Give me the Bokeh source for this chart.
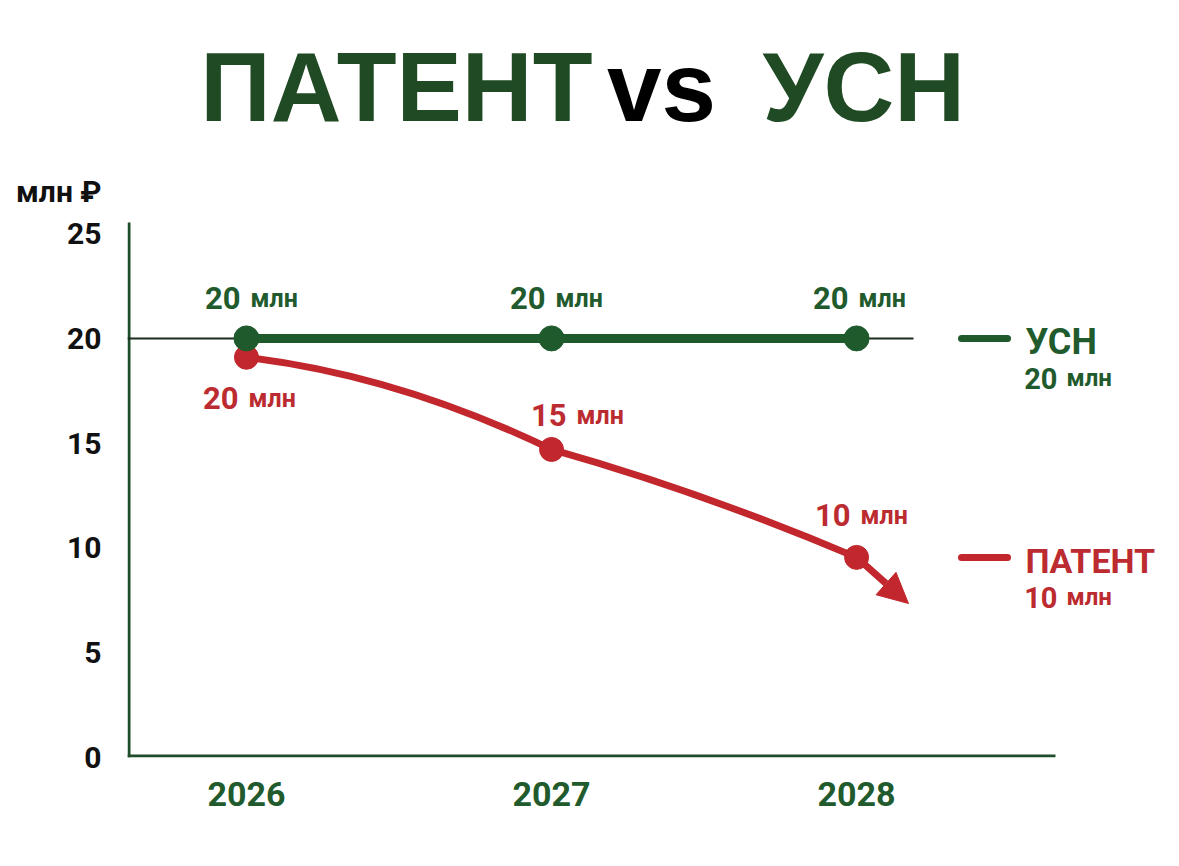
from bokeh.plotting import figure
from bokeh.models import Arrow, NormalHead, FixedTicker, Range1d
from bokeh.core.properties import value
from bokeh.embed import file_html
from bokeh.resources import INLINE

# ---------------- data ----------------
years = [2026, 2027, 2028]
usn = [20, 20, 20]
patent = [19.1, 14.7, 9.55]
usn_labels = ["20", "20", "20"]
patent_labels = ["20", "15", "10"]
unit = "млн"
y_ticks = [0, 5, 10, 15, 20, 25]
y_unit_label = "млн ₽"
threshold = 20
patent_trend_end = (2028.17, 7.35)   # where the trend arrow points
legend_usn = ("УСН", "20")
legend_patent = ("ПАТЕНТ", "10")
title_parts = ["ПАТЕНТ", "vs", "УСН"]

# ---------------- style / layout ----------------
W, H = 1179, 866
FRAME_L, FRAME_R, FRAME_T, FRAME_B = 127, W, 0, 757
PX_PER_YEAR, PX_PER_UNIT = 305.06, 20.955
X_START = 2025.61
X_END = X_START + (FRAME_R - FRAME_L) / PX_PER_YEAR
Y_START = 0
Y_END = (FRAME_B - FRAME_T) / PX_PER_UNIT
UNIT_TICK = 27          # where the "млн ₽" caption sits on the y axis
BASE_FIX = -12          # baseline correction for text glyphs

TITLE_GREEN = "#1f4a23"
GREEN = "#1f5a2d"
LABEL_GREEN = "#215a2c"
AXIS_GREEN = "#1f4d2b"
RED = "#c1272d"
LABEL_RED = "#bb2b2f"
DARK = "#1b2b1d"
FONT = "Roboto"
TITLE_FONT = "Liberation Sans"


def data_x(px):
    return X_START + (px - FRAME_L) / PX_PER_YEAR


def data_y(py):
    return Y_START + (FRAME_B - py) / PX_PER_UNIT


p = figure(width=W, height=H, output_backend="svg", toolbar_location=None,
           x_range=Range1d(X_START, X_END), y_range=Range1d(Y_START, Y_END),
           min_border_left=FRAME_L, min_border_right=W - FRAME_R,
           min_border_top=FRAME_T, min_border_bottom=H - FRAME_B)
p.outline_line_color = None
p.grid.visible = False
p.background_fill_color = "white"
p.border_fill_color = "white"

# axes (tick labels from the library's axes; axis lines drawn to the reference's extent)
p.xaxis.ticker = FixedTicker(ticks=years)
p.xaxis.major_label_overrides = {y: str(y) for y in years}
p.yaxis.ticker = FixedTicker(ticks=y_ticks + [UNIT_TICK])
p.yaxis.major_label_overrides = {UNIT_TICK: y_unit_label}
for ax in (p.xaxis, p.yaxis):
    ax.major_tick_line_color = None
    ax.minor_tick_line_color = None
    ax.axis_line_color = None
    ax.major_label_text_font = FONT
    ax.major_label_text_font_style = "bold"
p.xaxis.major_label_text_font_size = "34px"
p.xaxis.major_label_text_color = LABEL_GREEN
p.xaxis.major_label_standoff = 18
p.yaxis.major_label_text_font_size = "30px"
p.yaxis.major_label_text_color = "#111111"
p.yaxis.major_label_standoff = 20

p.segment(x0=[data_x(128.5)], y0=[Y_START], x1=[data_x(128.5)], y1=[data_y(222)],
          line_color=AXIS_GREEN, line_width=3)
p.segment(x0=[X_START], y0=[data_y(755.5)], x1=[data_x(1055)], y1=[data_y(755.5)],
          line_color=AXIS_GREEN, line_width=3)

# threshold reference line
p.segment(x0=[X_START], y0=[threshold], x1=[data_x(913)], y1=[threshold],
          line_color=DARK, line_width=2)

# PATENT curve: each segment bows upward (flatter start, steeper end)
BOW_START, BOW_END = [0.4, 0.8], [1.6, 1.2]
x0s, y0s, x1s, y1s, cx0s, cy0s, cx1s, cy1s = [], [], [], [], [], [], [], []
for i in range(len(years) - 1):
    xa, ya, xb, yb = years[i], patent[i], years[i + 1], patent[i + 1]
    dx, dy = xb - xa, yb - ya
    x0s.append(xa); y0s.append(ya); x1s.append(xb); y1s.append(yb)
    cx0s.append(xa + dx / 3); cy0s.append(ya + dy / 3 * BOW_START[i])
    cx1s.append(xb - dx / 3); cy1s.append(yb - dy / 3 * BOW_END[i])
p.bezier(x0=x0s, y0=y0s, x1=x1s, y1=y1s, cx0=cx0s, cy0=cy0s, cx1=cx1s, cy1=cy1s,
         line_color=RED, line_width=7, line_cap="round")
p.add_layout(Arrow(x_start=years[-1], y_start=patent[-1],
                   x_end=patent_trend_end[0], y_end=patent_trend_end[1],
                   line_color=RED, line_width=7,
                   end=NormalHead(size=30, fill_color=RED, line_color=RED, line_width=1)))
p.scatter(years, patent, size=24, color=RED)

# USN line
p.line(years, usn, line_color=GREEN, line_width=9)
p.scatter(years, usn, size=25, color=GREEN)


def txt(x, y, s, size, color, align="left", dx=0, dy=0, font=FONT, fix=BASE_FIX):
    p.text(x=[x], y=[y], text=[s], x_offset=dx, y_offset=dy + fix,
           text_align=align, text_baseline="alphabetic",
           text_font=value(font), text_font_style="bold",
           text_font_size=size, text_color=color)


# point labels
usn_dx = [0, 0, -2]
usn_dy = [-28, -28, -28]
pat_dx = [-2, 21, 0]
pat_dy = [53, -22, -30]
for ys, labs, dxs, dys, col in ((usn, usn_labels, usn_dx, usn_dy, LABEL_GREEN),
                                 (patent, patent_labels, pat_dx, pat_dy, LABEL_RED)):
    for xv, yv, lab, dx, dy in zip(years, ys, labs, dxs, dys):
        txt(xv, yv, lab, "31px", col, align="right", dx=dx - 6, dy=dy)
        txt(xv, yv, unit, "25px", col, align="left", dx=dx + 4, dy=dy)

# right-side legend, placed at each series' last value
for (name, num), last, col, lcol, nsize in ((legend_usn, usn[-1], GREEN, LABEL_GREEN, "36px"),
                                            (legend_patent, patent[-1], RED, LABEL_RED, "34px")):
    p.segment(x0=[data_x(961)], y0=[last], x1=[data_x(1007)], y1=[last],
              line_color=col, line_width=7, line_cap="round")
    txt(data_x(1025), last, name, nsize, lcol, dy=16)
    txt(data_x(1057), last, num, "29px", lcol, align="right", dy=52)
    txt(data_x(1066), last, unit, "24px", lcol, dy=52)

# title
for part, px, align, col in zip(title_parts, [592, 661, 762], ["right", "center", "left"],
                                [TITLE_GREEN, "#000000", TITLE_GREEN]):
    txt(data_x(px), data_y(122), part, "98px", col, align=align, font=TITLE_FONT, fix=-36)

open("out.html", "w").write(file_html(p, INLINE))
